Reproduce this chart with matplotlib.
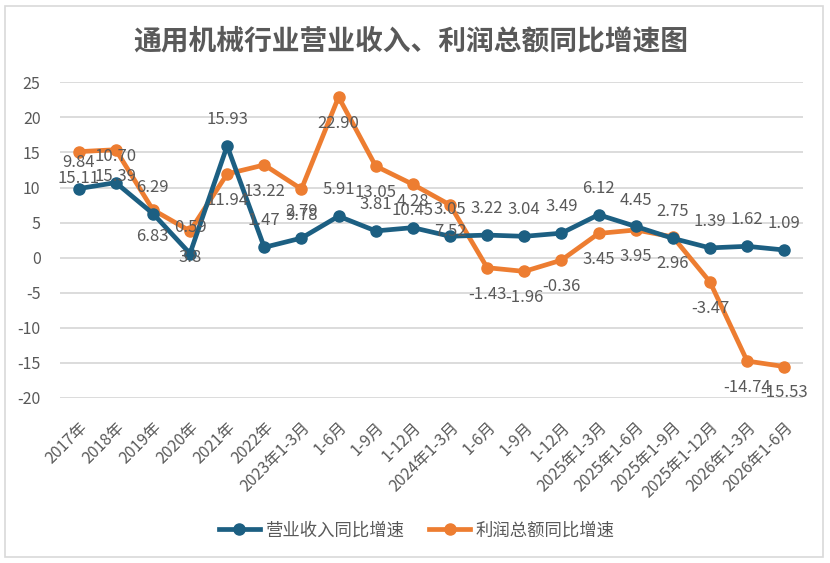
import matplotlib
matplotlib.use("Agg")
import matplotlib.pyplot as plt
from matplotlib.patches import Rectangle

plt.rcParams['font.family'] = ['Noto Sans CJK SC', 'DejaVu Sans']
plt.rcParams['axes.unicode_minus'] = False

categories = ["2017年", "2018年", "2019年", "2020年", "2021年", "2022年",
              "2023年1-3月", "1-6月", "1-9月", "1-12月",
              "2024年1-3月", "1-6月", "1-9月", "1-12月",
              "2025年1-3月", "2025年1-6月", "2025年1-9月", "2025年1-12月",
              "2026年1-3月", "2026年1-6月"]
revenue = [9.84, 10.70, 6.29, 0.59, 15.93, 1.47, 2.79, 5.91, 3.81, 4.28,
           3.05, 3.22, 3.04, 3.49, 6.12, 4.45, 2.75, 1.39, 1.62, 1.09]
profit = [15.11, 15.39, 6.83, 3.8, 11.94, 13.22, 9.78, 22.90, 13.05, 10.45,
          7.52, -1.43, -1.96, -0.36, 3.45, 3.95, 2.96, -3.47, -14.74, -15.53]
revenue_labels = ["9.84", "10.70", "6.29", "0.59", "15.93", "1.47", "2.79", "5.91", "3.81", "4.28",
                  "3.05", "3.22", "3.04", "3.49", "6.12", "4.45", "2.75", "1.39", "1.62", "1.09"]
profit_labels = ["15.11", "15.39", "6.83", "3.8", "11.94", "13.22", "9.78", "22.90", "13.05", "10.45",
                 "7.52", "-1.43", "-1.96", "-0.36", "3.45", "3.95", "2.96", "-3.47", "-14.74", "-15.53"]
yticks = [25, 20, 15, 10, 5, 0, -5, -10, -15, -20]
series_names = ["营业收入同比增速", "利润总额同比增速"]
title = "通用机械行业营业收入、利润总额同比增速图"

blue = "#1C5F82"
orange = "#ED7D31"
gray = "#595959"

fig = plt.figure(figsize=(8.3, 5.63), dpi=100)
fig.patches.append(Rectangle((0.006, 0.01), 0.985, 0.98, transform=fig.transFigure,
                             fill=False, edgecolor="#D9D9D9", linewidth=1.2))
ax = fig.add_axes([0.0723, 0.2932, 0.8950, 0.5606])

x = list(range(len(categories)))
ax.plot(x, revenue, color=blue, linewidth=3.4, marker='o', markersize=8,
        label=series_names[0], zorder=3)
ax.plot(x, profit, color=orange, linewidth=3.4, marker='o', markersize=8,
        label=series_names[1], zorder=2)

for xi, v, t in zip(x, revenue, revenue_labels):
    ax.annotate(t, (xi, v), xytext=(0, 19), textcoords='offset points',
                ha='center', va='center', fontsize=12, color=gray, zorder=4)
for xi, v, t in zip(x, profit, profit_labels):
    ax.annotate(t, (xi, v), xytext=(0, -19), textcoords='offset points',
                ha='center', va='center', fontsize=12, color=gray, zorder=4)

ax.set_xlim(-0.5, len(categories) - 0.5)
ax.set_ylim(-20, 25)
ax.set_yticks(yticks)
ax.set_yticklabels([str(v) for v in yticks])
ax.set_xticks(x)
ax.set_xticklabels(categories, rotation=45, ha='right', rotation_mode='anchor')
ax.tick_params(axis='both', length=0, labelcolor=gray, labelsize=11.5)
ax.tick_params(axis='y', pad=14)
ax.tick_params(axis='x', pad=15)
ax.grid(axis='y', color="#D9D9D9", linewidth=1.3)
ax.set_axisbelow(True)
for s in ax.spines.values():
    s.set_visible(False)

fig.text(0.495, 0.926, title, ha='center', va='center', fontsize=20,
         color=gray, fontweight='bold')

fig.legend(loc='center', bbox_to_anchor=(0.502, 0.058), ncol=2, frameon=False,
           fontsize=12.5, handlelength=2.4, columnspacing=1.4, handletextpad=0.3,
           labelcolor=gray)

fig.savefig("out.png", dpi=100)
